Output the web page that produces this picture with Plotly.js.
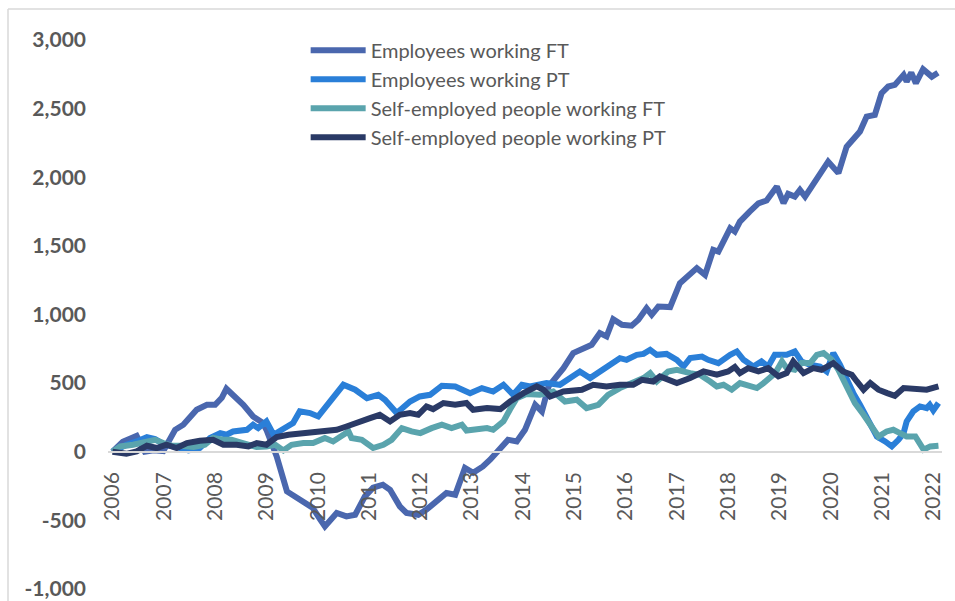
<!DOCTYPE html>
<html>
<head>
<meta charset="utf-8">
<script src="https://cdn.plot.ly/plotly-3.0.1.min.js"></script>
<style>
  html, body { margin: 0; padding: 0; background: #ffffff; }
  #chart { width: 955px; height: 601px; }
</style>
</head>
<body>
<div id="chart"></div>
<script>
// ---- Data ----
const seriesNames = [
  "Employees working FT",
  "Employees working PT",
  "Self-employed people working FT",
  "Self-employed people working PT"
];

const empFtT = [2006.0, 2006.2, 2006.47, 2006.63, 2006.8, 2006.99, 2007.22, 2007.38, 2007.64, 2007.84, 2008.0, 2008.13, 2008.22, 2008.35, 2008.55, 2008.74, 2008.93, 2009.0, 2009.2, 2009.4, 2009.65, 2009.9, 2010.05, 2010.14, 2010.37, 2010.56, 2010.73, 2010.92, 2011.08, 2011.27, 2011.41, 2011.6, 2011.73, 2011.96, 2012.12, 2012.32, 2012.51, 2012.68, 2012.87, 2013.03, 2013.22, 2013.36, 2013.56, 2013.71, 2013.88, 2014.04, 2014.24, 2014.37, 2014.5, 2014.79, 2014.98, 2015.18, 2015.34, 2015.5, 2015.63, 2015.76, 2015.93, 2016.12, 2016.25, 2016.41, 2016.51, 2016.64, 2016.87, 2017.06, 2017.19, 2017.39, 2017.55, 2017.71, 2017.81, 2018.04, 2018.13, 2018.23, 2018.42, 2018.59, 2018.75, 2018.95, 2019.08, 2019.17, 2019.3, 2019.4, 2019.5, 2019.73, 2019.95, 2020.15, 2020.31, 2020.57, 2020.7, 2020.86, 2020.99, 2021.12, 2021.25, 2021.42, 2021.48, 2021.57, 2021.66, 2021.8, 2021.97, 2022.09];
const empFtV = [0, 73, 116, 0, 10, 5, 160, 197, 306, 342, 342, 393, 459, 415, 342, 257, 211, 160, -34, -289, -350, -408, -495, -544, -446, -471, -459, -325, -262, -240, -277, -398, -446, -459, -422, -362, -301, -313, -118, -153, -107, -58, 29, 87, 75, 160, 342, 294, 476, 609, 719, 755, 779, 864, 840, 966, 925, 918, 961, 1046, 998, 1058, 1054, 1228, 1277, 1338, 1289, 1471, 1459, 1629, 1604, 1677, 1750, 1810, 1830, 1932, 1811, 1879, 1859, 1908, 1859, 1993, 2114, 2030, 2223, 2333, 2442, 2454, 2612, 2661, 2673, 2746, 2697, 2762, 2685, 2787, 2733, 2762];

const empPtT = [2006.0, 2006.27, 2006.47, 2006.67, 2006.83, 2007.02, 2007.25, 2007.48, 2007.7, 2007.9, 2008.1, 2008.22, 2008.35, 2008.62, 2008.74, 2008.84, 2009.0, 2009.14, 2009.3, 2009.52, 2009.65, 2009.85, 2010.01, 2010.17, 2010.3, 2010.5, 2010.73, 2010.96, 2011.18, 2011.31, 2011.54, 2011.8, 2011.99, 2012.19, 2012.42, 2012.68, 2012.97, 2013.2, 2013.42, 2013.62, 2013.81, 2013.98, 2014.14, 2014.46, 2014.72, 2015.11, 2015.31, 2015.5, 2015.66, 2015.89, 2016.02, 2016.22, 2016.35, 2016.48, 2016.61, 2016.8, 2017.0, 2017.13, 2017.26, 2017.49, 2017.61, 2017.81, 2018.04, 2018.17, 2018.3, 2018.49, 2018.65, 2018.78, 2018.91, 2019.14, 2019.3, 2019.43, 2019.6, 2019.79, 2019.92, 2020.05, 2020.18, 2020.31, 2020.44, 2020.57, 2020.73, 2020.9, 2021.06, 2021.19, 2021.32, 2021.42, 2021.48, 2021.61, 2021.74, 2021.87, 2021.93, 2022.0, 2022.1];
const empPtV = [0, 51, 75, 107, 92, 51, 34, 10, 27, 100, 136, 124, 148, 160, 197, 172, 221, 124, 160, 209, 294, 282, 257, 330, 391, 488, 452, 391, 415, 379, 282, 366, 403, 415, 481, 476, 427, 464, 439, 488, 415, 488, 476, 500, 488, 585, 537, 585, 634, 682, 670, 706, 713, 743, 706, 713, 670, 621, 682, 694, 670, 646, 706, 731, 670, 621, 658, 621, 706, 706, 731, 658, 634, 621, 585, 719, 634, 524, 427, 342, 221, 111, 75, 39, 87, 136, 221, 294, 330, 318, 342, 301, 355];

const selfFtT = [2006.0, 2006.15, 2006.4, 2006.6, 2006.83, 2006.99, 2007.15, 2007.32, 2007.58, 2007.8, 2007.96, 2008.16, 2008.32, 2008.49, 2008.65, 2008.81, 2009.0, 2009.17, 2009.33, 2009.49, 2009.72, 2009.91, 2010.14, 2010.3, 2010.5, 2010.6, 2010.66, 2010.86, 2011.08, 2011.28, 2011.44, 2011.64, 2011.83, 2012.0, 2012.22, 2012.42, 2012.61, 2012.81, 2012.9, 2013.1, 2013.3, 2013.42, 2013.62, 2013.75, 2013.88, 2014.07, 2014.33, 2014.59, 2014.82, 2015.05, 2015.24, 2015.47, 2015.66, 2015.89, 2016.15, 2016.35, 2016.48, 2016.61, 2016.83, 2017.0, 2017.26, 2017.45, 2017.65, 2017.78, 2017.91, 2018.07, 2018.23, 2018.4, 2018.56, 2018.69, 2018.82, 2018.92, 2019.05, 2019.14, 2019.3, 2019.43, 2019.6, 2019.73, 2019.86, 2020.02, 2020.15, 2020.31, 2020.47, 2020.64, 2020.8, 2020.93, 2021.09, 2021.22, 2021.35, 2021.48, 2021.65, 2021.81, 2021.94, 2022.1];
const selfFtV = [0, 39, 51, 63, 87, 63, 44, 44, 34, 51, 100, 87, 87, 68, 51, 34, 39, 51, 10, 51, 63, 63, 100, 75, 124, 148, 100, 87, 27, 51, 87, 172, 148, 136, 172, 197, 172, 197, 155, 160, 172, 160, 221, 310, 390, 421, 415, 439, 366, 379, 318, 342, 415, 464, 500, 537, 573, 512, 585, 597, 573, 561, 512, 476, 488, 452, 500, 476, 464, 500, 537, 573, 658, 609, 597, 646, 646, 706, 719, 670, 597, 476, 355, 269, 172, 111, 148, 160, 136, 111, 111, 15, 39, 44];

const selfPtT = [2006.0, 2006.15, 2006.27, 2006.47, 2006.67, 2006.86, 2007.05, 2007.25, 2007.45, 2007.7, 2007.96, 2008.16, 2008.42, 2008.65, 2008.81, 2009.0, 2009.2, 2009.43, 2009.72, 2010.05, 2010.17, 2010.37, 2010.56, 2010.82, 2011.02, 2011.21, 2011.41, 2011.6, 2011.8, 2011.96, 2012.12, 2012.25, 2012.45, 2012.68, 2012.9, 2013.03, 2013.3, 2013.56, 2013.75, 2014.01, 2014.27, 2014.4, 2014.53, 2014.79, 2015.15, 2015.37, 2015.63, 2015.89, 2016.15, 2016.32, 2016.54, 2016.67, 2017.0, 2017.26, 2017.52, 2017.78, 2018.0, 2018.13, 2018.23, 2018.39, 2018.59, 2018.78, 2018.98, 2019.14, 2019.27, 2019.47, 2019.66, 2019.82, 2020.05, 2020.24, 2020.41, 2020.51, 2020.64, 2020.77, 2020.93, 2021.1, 2021.25, 2021.42, 2021.68, 2021.87, 2022.1];
const selfPtV = [0, -5, -15, 2, 44, 27, 51, 27, 63, 80, 87, 51, 51, 39, 63, 51, 107, 124, 136, 148, 160, 160, 184, 213, 245, 269, 221, 269, 282, 269, 330, 311, 355, 342, 355, 306, 318, 311, 366, 427, 476, 452, 403, 439, 452, 488, 476, 488, 488, 524, 512, 549, 500, 537, 585, 561, 585, 617, 573, 609, 585, 609, 549, 573, 658, 573, 609, 597, 646, 585, 561, 512, 452, 500, 452, 427, 408, 464, 456, 452, 476];

const xTickVals = [2006, 2007, 2008, 2009, 2010, 2011, 2012, 2013, 2014, 2015, 2016, 2017, 2018, 2019, 2020, 2021, 2022];
const xTickText = ["2006", "2007", "2008", "2009", "2010", "2011", "2012", "2013", "2014", "2015", "2016", "2017", "2018", "2019", "2020", "2021", "2022"];
const yTickVals = [-1000, -500, 0, 500, 1000, 1500, 2000, 2500, 3000];
const yTickText = ["-1,000", "-500", "0", "500", "1,000", "1,500", "2,000", "2,500", "3,000"];

// ---- Styles ----
const colors = ["#4a67ae", "#2a7fd8", "#5aa4ad", "#2a3a66"];
const FONT = "Lato, 'Open Sans', sans-serif";
const TXT = "#595959";

const xs = [empFtT, empPtT, selfFtT, selfPtT];
const ys = [empFtV, empPtV, selfFtV, selfPtV];

const traces = seriesNames.map((name, i) => ({
  type: "scatter",
  mode: "lines",
  name: name,
  x: xs[i],
  y: ys[i],
  line: { color: colors[i], width: 6, shape: "linear" },
  hoverinfo: "x+y+name"
}));

const layout = {
  width: 955,
  height: 601,
  margin: { l: 108, r: 13, t: 40, b: 12 },
  paper_bgcolor: "#ffffff",
  plot_bgcolor: "#ffffff",
  font: { family: FONT, color: TXT },
  showlegend: true,
  legend: {
    x: 0.237, y: 1.017, xanchor: "left", yanchor: "top",
    font: { family: FONT, size: 20, color: TXT },
    bgcolor: "rgba(0,0,0,0)",
    itemwidth: 55,
    tracegroupgap: 0
  },
  xaxis: {
    range: [2005.912, 2022.169],
    tickmode: "array",
    tickvals: xTickVals,
    ticktext: xTickText,
    tickangle: -90,
    tickfont: { family: FONT, size: 21, color: TXT },
    showgrid: false,
    zeroline: false,
    showline: true,
    linecolor: "#d9d9d9",
    linewidth: 2,
    ticks: "",
    anchor: "free",
    position: 0.25,
    ticklabelstandoff: 11
  },
  yaxis: {
    range: [-1000, 3000],
    tickmode: "array",
    tickvals: yTickVals,
    ticktext: yTickText,
    tickfont: { family: FONT, size: 21, color: TXT, weight: "bold" },
    showgrid: false,
    zeroline: false,
    showline: false,
    ticks: "",
    ticklabelstandoff: 21
  },
  shapes: [
    { type: "line", xref: "paper", yref: "paper", x0: -0.1199, x1: -0.1199, y0: -0.05, y1: 1.0565,
      line: { color: "#d9d9d9", width: 1.5 } },
    { type: "line", xref: "paper", yref: "paper", x0: -0.1199, x1: 1.03, y0: 1.0565, y1: 1.0565,
      line: { color: "#d9d9d9", width: 1.5 } }
  ]
};

Plotly.newPlot("chart", traces, layout, { displayModeBar: false, responsive: false });
</script>
</body>
</html>
